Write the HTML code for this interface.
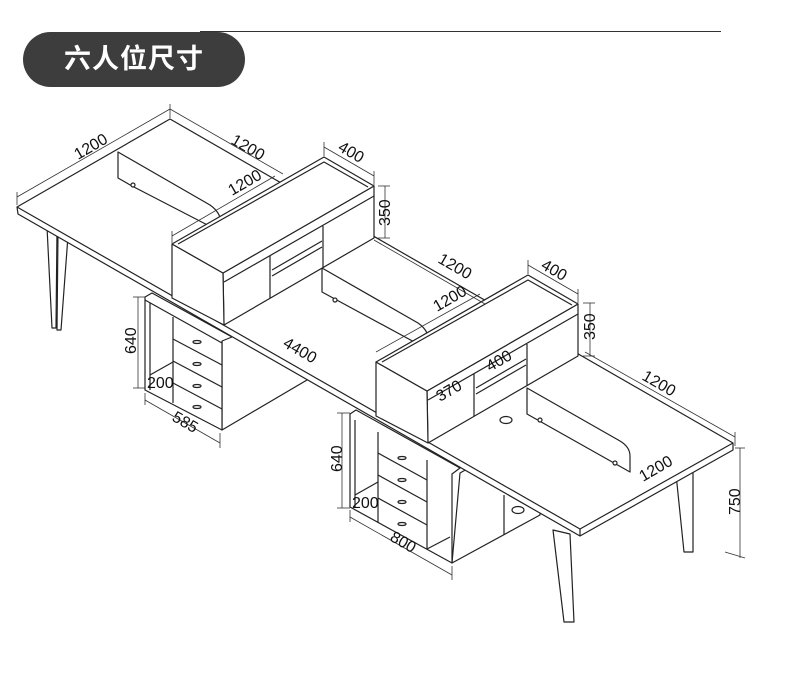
<!DOCTYPE html>
<html><head><meta charset="utf-8"><style>
html,body{margin:0;padding:0;background:#fff;}
body{width:790px;height:684px;overflow:hidden;position:relative;}
.pill{position:absolute;left:23px;top:32px;width:222px;height:55px;border-radius:28px;background:#3d3d3d;color:#fff;font:bold 27px "Liberation Sans","Noto Sans CJK SC",sans-serif;line-height:55px;text-align:center;letter-spacing:1px;}
.hl{position:absolute;left:200px;top:31px;width:521px;height:1px;background:#333;}
svg{position:absolute;left:0;top:0;}
text{font-family:"Liberation Sans",sans-serif;font-size:16px;fill:#111;}
</style></head><body>
<div class="hl"></div>
<div class="pill">六人位尺寸</div>
<svg width="790" height="684" viewBox="0 0 790 684">
<g fill="#fff" stroke="#222" stroke-width="1.2" stroke-linejoin="round">
<!-- legs -->
<polygon points="47,227 57,230 56,328 52,328"/>
<polygon points="58,232 68,236 61,330 57,330"/>
<polygon points="553,530 570,534 574,622 564,622"/>
<polygon points="676,474 693,470 693,552 684,552"/>
<!-- pedestal 1 -->
<polygon points="222,340 308,292 307,380 222,430"/>
<polygon points="145,297 152,293 232,337 222,341 222,430 145,390"/>
<line x1="145" y1="300" x2="222" y2="343"/>
<line x1="150" y1="303" x2="150" y2="390"/>
<line x1="173" y1="317" x2="173" y2="403"/>
<line x1="173" y1="339" x2="222" y2="365"/>
<line x1="173" y1="361" x2="222" y2="387"/>
<line x1="173" y1="383" x2="222" y2="409"/>
<line x1="150" y1="375" x2="173" y2="362"/>
<g fill="none"><ellipse cx="197" cy="342" rx="4" ry="1.5"/><ellipse cx="197" cy="364" rx="4" ry="1.5"/><ellipse cx="197" cy="386" rx="4" ry="1.5"/><ellipse cx="197" cy="407" rx="4" ry="1.5"/></g>
<!-- pedestal 2 -->
<polygon points="460,473 540,428 540,515 452,563"/>
<polygon points="350,414 356,410 460,468 452,474 452,563 350,507"/>
<line x1="355" y1="420" x2="355" y2="508"/>
<line x1="378" y1="432" x2="378" y2="523"/>
<line x1="427" y1="460" x2="427" y2="549"/>
<line x1="378" y1="453" x2="427" y2="480"/>
<line x1="378" y1="475" x2="427" y2="502"/>
<line x1="378" y1="498" x2="427" y2="525"/>
<line x1="355" y1="495" x2="378" y2="482"/>
<line x1="504" y1="495" x2="504" y2="535"/>
<line x1="427" y1="549" x2="450" y2="537"/>
<g fill="none"><ellipse cx="402" cy="458" rx="4" ry="1.5"/><ellipse cx="402" cy="480" rx="4" ry="1.5"/><ellipse cx="402" cy="502" rx="4" ry="1.5"/><ellipse cx="402" cy="524" rx="4" ry="1.5"/><ellipse cx="518" cy="510" rx="6" ry="3.5"/></g>
<!-- desk top -->
<polygon points="17,207 170,119 733,443 733,450 580,536 18,214"/>
<polyline points="17,207 580,529 733,443" fill="none"/>
<line x1="580" y1="529" x2="580" y2="536"/>
<!-- screens -->
<path d="M118,152 L210,205 Q220,212 221,222 L221,232 L132,186 L118,178 Z"/>
<path d="M322,268 L418,323 Q428,330 429,340 L429,350 L322,292 Z"/>
<path d="M527,388 L620,441 Q630,447 630,456 L630,472 L527,414 Z"/>
<circle cx="133" cy="185" r="2"/><circle cx="335" cy="300" r="2"/><circle cx="540" cy="420" r="2"/><circle cx="615" cy="463" r="2"/>
<ellipse cx="506" cy="420" rx="6" ry="3.5"/>
<!-- hutch 1 -->
<g id="h">
<polygon points="223,273 374,186 374,238 224,325"/>
<polygon points="172,244 223,273 224,325 172,298"/>
<polygon points="172,244 324,157 374,186 223,273"/>
<polyline points="178,244 324,162 368,187" fill="none"/>
<line x1="224" y1="282" x2="374" y2="196"/>
<line x1="270" y1="256" x2="270" y2="298"/>
<line x1="323" y1="226" x2="323" y2="268"/>
<line x1="272" y1="270" x2="322" y2="241"/>
<line x1="272" y1="276" x2="322" y2="247"/>
</g>
<use href="#h" transform="translate(204,118)"/>
</g>
<!-- dimension lines -->
<g stroke="#333" stroke-width="0.8" fill="none">
<line x1="17" y1="197" x2="170" y2="109"/><line x1="17" y1="192" x2="17" y2="205"/><line x1="170" y1="104" x2="170" y2="118"/>
<line x1="170" y1="109" x2="283" y2="174"/>
<line x1="172" y1="236" x2="275" y2="176"/><line x1="172" y1="231" x2="172" y2="243"/>
<line x1="324" y1="147" x2="374" y2="176"/><line x1="324" y1="142" x2="324" y2="156"/><line x1="374" y1="171" x2="374" y2="185"/>
<line x1="385" y1="186" x2="385" y2="238"/><line x1="378" y1="186" x2="390" y2="186"/><line x1="378" y1="238" x2="390" y2="238"/>
<line x1="374" y1="240" x2="485" y2="304"/>
<line x1="376" y1="352" x2="480" y2="294"/>
<line x1="528" y1="265" x2="578" y2="294"/><line x1="528" y1="260" x2="528" y2="274"/><line x1="578" y1="289" x2="578" y2="303"/>
<line x1="590" y1="303" x2="590" y2="356"/><line x1="583" y1="303" x2="595" y2="303"/><line x1="583" y1="356" x2="595" y2="356"/>
<line x1="585" y1="352" x2="735" y2="437"/><line x1="735" y1="432" x2="735" y2="446"/>
<line x1="740" y1="448" x2="740" y2="558"/><line x1="735" y1="448" x2="745" y2="448"/><line x1="725" y1="552" x2="745" y2="558"/>
<line x1="138" y1="297" x2="138" y2="388"/><line x1="133" y1="297" x2="145" y2="297"/><line x1="133" y1="388" x2="145" y2="388"/>
<line x1="145" y1="400" x2="220" y2="443"/><line x1="145" y1="393" x2="145" y2="405"/><line x1="220" y1="433" x2="220" y2="448"/>
<line x1="342" y1="413" x2="342" y2="508"/><line x1="337" y1="413" x2="350" y2="413"/><line x1="337" y1="508" x2="350" y2="508"/>
<line x1="350" y1="517" x2="452" y2="575"/><line x1="350" y1="510" x2="350" y2="522"/><line x1="452" y1="566" x2="452" y2="580"/>
</g>
<g>
<text transform="translate(78,160) rotate(-30)">1200</text>
<text transform="translate(230,143) rotate(30)">1200</text>
<text transform="translate(232,196) rotate(-30)">1200</text>
<text transform="translate(337,150) rotate(30)">400</text>
<text transform="translate(390,226) rotate(-90)">350</text>
<text transform="translate(437,262) rotate(30)">1200</text>
<text transform="translate(437,312) rotate(-30)">1200</text>
<text transform="translate(540,268) rotate(30)">400</text>
<text transform="translate(595,340) rotate(-90)">350</text>
<text transform="translate(282,346) rotate(30)">4400</text>
<text transform="translate(136,354) rotate(-90)">640</text>
<text x="147" y="388">200</text>
<text transform="translate(171,420) rotate(30)">585</text>
<text transform="translate(440,402) rotate(-30)">370</text>
<text transform="translate(490,372) rotate(-30)">400</text>
<text transform="translate(641,379) rotate(30)">1200</text>
<text transform="translate(643,482) rotate(-30)">1200</text>
<text transform="translate(740,515) rotate(-90)">750</text>
<text transform="translate(342,472) rotate(-90)">640</text>
<text x="352" y="508">200</text>
<text transform="translate(389,540) rotate(30)">800</text>
</g>
</svg>
</body></html>
